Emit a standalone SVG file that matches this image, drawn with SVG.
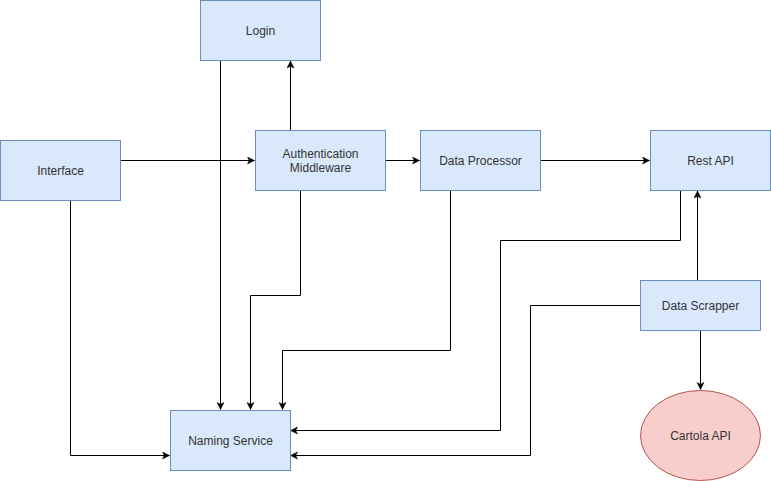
<svg xmlns="http://www.w3.org/2000/svg" width="771" height="481" viewBox="0 0 771 481">
  <style>
    .box { fill: #dae8fc; stroke: #6c8ebf; stroke-width: 1; }
    .ext { fill: #f8cecc; stroke: #b85450; stroke-width: 1; }
    .lbl { font-family: "Liberation Sans", Arial, Helvetica, sans-serif; font-size: 12px; fill: #333333; text-anchor: middle; dominant-baseline: central; }
    .edge { fill: none; stroke: #000000; stroke-width: 1; marker-end: url(#arrow); }
  </style>
  <defs>
    <marker id="arrow" markerUnits="userSpaceOnUse" markerWidth="10" markerHeight="10" refX="8" refY="4" orient="auto">
      <path d="M1,0.5 L8,4 L1,7.5 L2.75,4 Z" fill="#000000" stroke="#000000" stroke-width="0.5"/>
    </marker>
  </defs>
  <rect width="771" height="481" fill="#ffffff"/>

  <g id="connectors">
    <!-- Login to Naming Service -->
    <path class="edge" d="M220.5,60.5 L220.5,409.5"/>
    <!-- Authentication Middleware to Login -->
    <path class="edge" d="M290.5,130.5 L290.5,61"/>
    <!-- Interface to Authentication Middleware -->
    <path class="edge" d="M120.5,160.5 L254.5,160.5"/>
    <!-- Authentication Middleware to Data Processor -->
    <path class="edge" d="M385.5,160.5 L419.5,160.5"/>
    <!-- Data Processor to Rest API -->
    <path class="edge" d="M540.5,160.5 L649.5,160.5"/>
    <!-- Authentication Middleware to Naming Service -->
    <path class="edge" d="M300.5,190.5 L300.5,295.5 L250.5,295.5 L250.5,409.5"/>
    <!-- Interface to Naming Service -->
    <path class="edge" d="M70.5,200.5 L70.5,455.5 L169.5,455.5"/>
    <!-- Data Processor to Naming Service -->
    <path class="edge" d="M450.5,190.5 L450.5,350.5 L282.5,350.5 L282.5,409.5"/>
    <!-- Rest API to Naming Service -->
    <path class="edge" d="M680.5,190.5 L680.5,240.5 L500.5,240.5 L500.5,430.5 L290.5,430.5"/>
    <!-- Data Scrapper to Rest API -->
    <path class="edge" d="M697.5,280.5 L697.5,191"/>
    <!-- Data Scrapper to Naming Service -->
    <path class="edge" d="M640.5,305.5 L530.5,305.5 L530.5,455.5 L290.5,455.5"/>
    <!-- Data Scrapper to Cartola API -->
    <path class="edge" d="M700.5,330.5 L700.5,389.5"/>
  </g>

  <g id="login">
    <rect class="box" x="200.5" y="0.5" width="120" height="60"/>
    <text class="lbl" x="260.5" y="30.5">Login</text>
  </g>
  <g id="interface">
    <rect class="box" x="0.5" y="140.5" width="120" height="60"/>
    <text class="lbl" x="60.5" y="170.5">Interface</text>
  </g>
  <g id="auth-middleware">
    <rect class="box" x="255.5" y="130.5" width="130" height="60"/>
    <text class="lbl" x="320.5" y="153.5">Authentication</text>
    <text class="lbl" x="320.5" y="167.5">Middleware</text>
  </g>
  <g id="data-processor">
    <rect class="box" x="420.5" y="130.5" width="120" height="60"/>
    <text class="lbl" x="480.5" y="160.5">Data Processor</text>
  </g>
  <g id="rest-api">
    <rect class="box" x="650.5" y="130.5" width="120" height="60"/>
    <text class="lbl" x="710.5" y="160.5">Rest API</text>
  </g>
  <g id="data-scrapper">
    <rect class="box" x="640.5" y="280.5" width="120" height="50"/>
    <text class="lbl" x="700.5" y="305.5">Data Scrapper</text>
  </g>
  <g id="naming-service">
    <rect class="box" x="170.5" y="410.5" width="120" height="60"/>
    <text class="lbl" x="230.5" y="440.5">Naming Service</text>
  </g>
  <g id="cartola-api">
    <ellipse class="ext" cx="700.5" cy="435.5" rx="60" ry="45"/>
    <text class="lbl" x="700.5" y="435.5">Cartola API</text>
  </g>
</svg>
